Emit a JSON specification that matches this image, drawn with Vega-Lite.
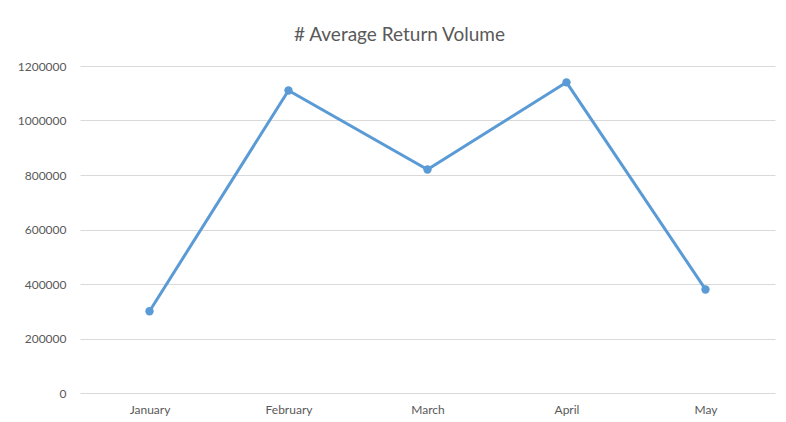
{
  "$schema": "https://vega.github.io/schema/vega-lite/v6.json",
  "autosize": "none",
  "width": 695,
  "height": 327,
  "padding": {"left": 80, "top": 66, "right": 11, "bottom": 29},
  "background": "white",
  "title": {
    "text": "# Average Return Volume",
    "font": "Lato",
    "fontSize": 19,
    "fontWeight": "normal",
    "color": "#595959",
    "anchor": "middle",
    "dx": -28,
    "offset": 15
  },
  "data": {
    "values": [
      {"month": "January", "volume": 300000},
      {"month": "February", "volume": 1110000},
      {"month": "March", "volume": 820000},
      {"month": "April", "volume": 1140000},
      {"month": "May", "volume": 380000}
    ]
  },
  "config": {
    "view": {"stroke": null},
    "axis": {
      "labelFont": "Lato",
      "labelFontSize": 12,
      "labelColor": "#595959",
      "domain": false,
      "ticks": false,
      "title": null
    }
  },
  "encoding": {
    "x": {
      "field": "month",
      "type": "nominal",
      "sort": null,
      "scale": {"paddingInner": 0, "paddingOuter": 0},
      "axis": {"labelAngle": 0, "labelPadding": 11, "grid": false}
    },
    "y": {
      "field": "volume",
      "type": "quantitative",
      "scale": {"domain": [0, 1200000]},
      "axis": {"values": [0, 200000, 400000, 600000, 800000, 1000000, 1200000], "format": "d", "labelPadding": 14, "gridColor": "#d9d9d9", "gridWidth": 1}
    }
  },
  "layer": [
    {"mark": {"type": "line", "color": "#5b9bd5", "strokeWidth": 3}},
    {"mark": {"type": "point", "filled": true, "color": "#5b9bd5", "opacity": 1, "size": 70}}
  ]
}
